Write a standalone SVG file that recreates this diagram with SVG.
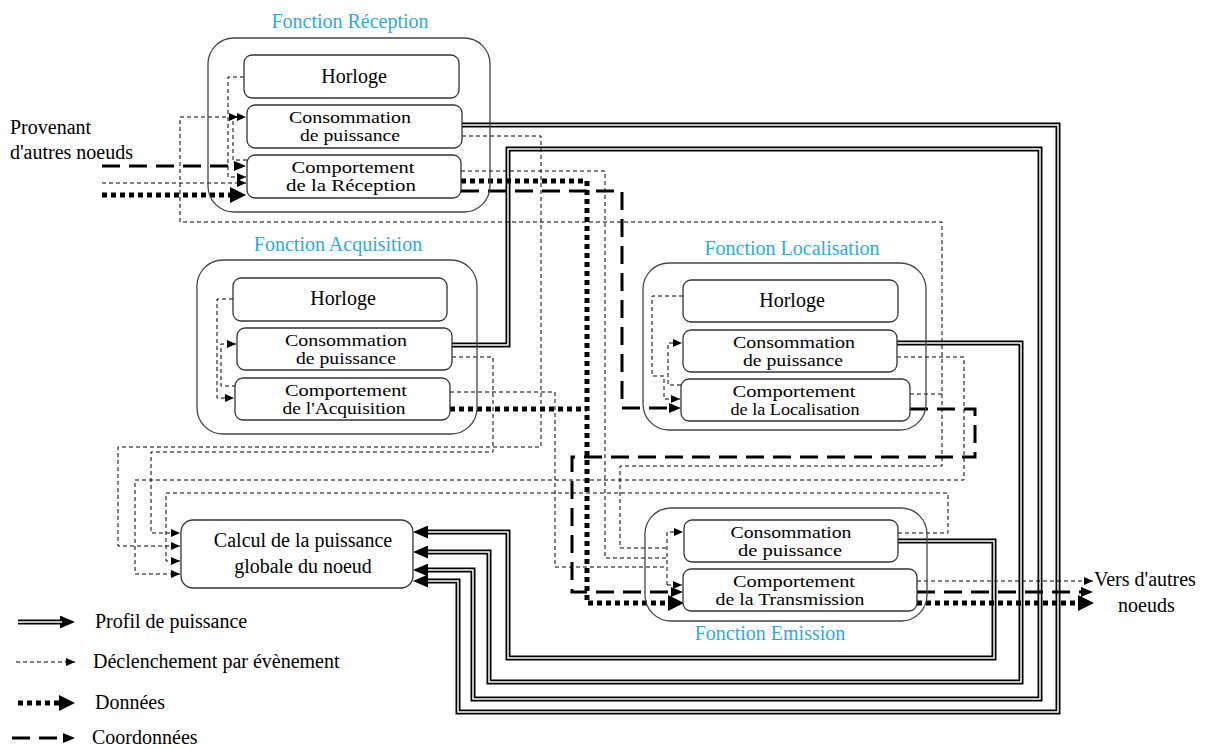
<svg xmlns="http://www.w3.org/2000/svg" width="1209" height="749" viewBox="0 0 1209 749">
<style>
text{font-family:"Liberation Serif","Times New Roman",serif;font-size:20px;fill:#000}
.s{font-size:17px}
.c{text-anchor:middle}
.t{fill:#29abe2}
.box{fill:#fff;stroke:#333;stroke-width:1.3}
.outer{fill:none;stroke:#444;stroke-width:1.3}
.ev{fill:none;stroke:#000;stroke-width:1;stroke-dasharray:4 3}
.co{fill:none;stroke:#000;stroke-width:3;stroke-dasharray:18 9}
.da{fill:none;stroke:#000;stroke-width:5;stroke-dasharray:5 4}
.pw{fill:none;stroke:#000;stroke-width:5}
.pwi{fill:none;stroke:#fff;stroke-width:1.5}
</style>
<defs>
<marker id="mEv" markerUnits="userSpaceOnUse" markerWidth="9" markerHeight="8" refX="9" refY="4" orient="auto"><path d="M0,0 L9,4 L0,8 z" fill="#000"/></marker>
<marker id="mCo" markerUnits="userSpaceOnUse" markerWidth="12" markerHeight="10" refX="8" refY="5" orient="auto"><path d="M0,0 L12,5 L0,10 z" fill="#000"/></marker>
<marker id="mDa" markerUnits="userSpaceOnUse" markerWidth="16" markerHeight="16" refX="8" refY="8" orient="auto"><path d="M0,0 L16,8 L0,16 z" fill="#000"/></marker>
<marker id="mPw" markerUnits="userSpaceOnUse" markerWidth="15" markerHeight="13" refX="8" refY="6.5" orient="auto"><path d="M0,0 L15,6.5 L0,13 z" fill="#000"/></marker>
</defs>
<rect width="1209" height="749" fill="#fff"/>

<g id="connectors">
  <!-- power profile (double lines) -->
  <path class="pw" d="M462,125 H1058 V712 H458 V581 H420" marker-end="url(#mPw)"/>
  <path class="pw" d="M452,345 H508 V149 H1040 V699 H473 V570 H420" marker-end="url(#mPw)"/>
  <path class="pw" d="M897,343 H1021 V682 H489 V552 H420" marker-end="url(#mPw)"/>
  <path class="pw" d="M898,541 H994 V658 H508 V532 H420" marker-end="url(#mPw)"/>
  <path class="pwi" d="M462,125 H1058 V712 H458 V581 H428"/>
  <path class="pwi" d="M452,345 H508 V149 H1040 V699 H473 V570 H428"/>
  <path class="pwi" d="M897,343 H1021 V682 H489 V552 H428"/>
  <path class="pwi" d="M898,541 H994 V658 H508 V532 H428"/>

  <!-- event triggers -->
  <path class="ev" d="M102,183 H246" marker-end="url(#mEv)"/>
  <path class="ev" d="M244,77 H228 V177 H246" marker-end="url(#mEv)"/>
  <path class="ev" d="M247,160 H233 V117 H246" marker-end="url(#mEv)"/>
  <path class="ev" d="M910,394 H942 V222 H180 V117 H238" marker-end="url(#mEv)"/>
  <path class="ev" d="M942,394 V466 H620 V548 H667"/>
  <path class="ev" d="M462,136 H541 V447 H118 V546 H180" marker-end="url(#mEv)"/>
  <path class="ev" d="M461,171 H605 V558 H667"/>
  <path class="ev" d="M452,357 H493 V452 H151 V533 H180" marker-end="url(#mEv)"/>
  <path class="ev" d="M450,392 H555 V567 H667"/>
  <path class="ev" d="M897,357 H964 V480 H135 V574 H180" marker-end="url(#mEv)"/>
  <path class="ev" d="M898,533 H948 V493 H166 V561 H180" marker-end="url(#mEv)"/>
  <path class="ev" d="M667,585 V532 H683" marker-end="url(#mEv)"/>
  <path class="ev" d="M667,585 H682" marker-end="url(#mEv)"/>
  <path class="ev" d="M233,299 H217 V398 H234" marker-end="url(#mEv)"/>
  <path class="ev" d="M236,386 H221 V344 H236" marker-end="url(#mEv)"/>
  <path class="ev" d="M683,296 H652 V376 H664 V399 H680" marker-end="url(#mEv)"/>
  <path class="ev" d="M681,385 H668 V343 H682" marker-end="url(#mEv)"/>
  <path class="ev" d="M917,581 H1093" marker-end="url(#mEv)"/>

  <!-- coordinates -->
  <path class="co" d="M102,166 H242" marker-end="url(#mCo)"/>
  <path class="co" d="M461,191 H622 V408 H677" marker-end="url(#mCo)"/>
  <path class="co" d="M910,409 H975 V457 H572 V592 H679" marker-end="url(#mCo)"/>
  <path class="co" d="M917,592 H1089" marker-end="url(#mCo)"/>

  <!-- data -->
  <path class="da" d="M102,195 H238" marker-end="url(#mDa)"/>
  <path class="da" d="M461,181 H587 V603 H676" marker-end="url(#mDa)"/>
  <path class="da" d="M450,409 H587"/>
  <path class="da" d="M917,603 H1086" marker-end="url(#mDa)"/>
</g>

<g id="fonction-reception">
  <text class="c t" x="350" y="28">Fonction Réception</text>
  <rect class="outer" x="208" y="38" width="282" height="174" rx="26"/>
</g>
<g id="reception-horloge">
  <rect class="box" x="244" y="55" width="215" height="43" rx="8"/>
  <text class="c" x="354" y="83">Horloge</text>
</g>
<g id="reception-consommation">
  <rect class="box" x="247" y="105" width="215" height="43" rx="8"/>
  <text class="c s" x="350" y="123" textLength="122" lengthAdjust="spacingAndGlyphs">Consommation</text>
  <text class="c s" x="350" y="141" textLength="100" lengthAdjust="spacingAndGlyphs">de puissance</text>
</g>
<g id="reception-comportement">
  <rect class="box" x="247" y="155" width="214" height="43" rx="8"/>
  <text class="c s" x="353" y="173" textLength="123" lengthAdjust="spacingAndGlyphs">Comportement</text>
  <text class="c s" x="351" y="191" textLength="130" lengthAdjust="spacingAndGlyphs">de la Réception</text>
</g>

<g id="fonction-acquisition">
  <text class="c t" x="338" y="251">Fonction Acquisition</text>
  <rect class="outer" x="197" y="260" width="280" height="174" rx="26"/>
</g>
<g id="acquisition-horloge">
  <rect class="box" x="233" y="278" width="214" height="43" rx="8"/>
  <text class="c" x="343" y="305">Horloge</text>
</g>
<g id="acquisition-consommation">
  <rect class="box" x="237" y="328" width="215" height="42" rx="8"/>
  <text class="c s" x="346" y="346" textLength="122" lengthAdjust="spacingAndGlyphs">Consommation</text>
  <text class="c s" x="346" y="364" textLength="100" lengthAdjust="spacingAndGlyphs">de puissance</text>
</g>
<g id="acquisition-comportement">
  <rect class="box" x="235" y="378" width="215" height="42" rx="8"/>
  <text class="c s" x="346" y="396" textLength="122" lengthAdjust="spacingAndGlyphs">Comportement</text>
  <text class="c s" x="344" y="414" textLength="123" lengthAdjust="spacingAndGlyphs">de l'Acquisition</text>
</g>

<g id="fonction-localisation">
  <text class="c t" x="792" y="255">Fonction Localisation</text>
  <rect class="outer" x="643" y="263" width="283" height="167" rx="26"/>
</g>
<g id="localisation-horloge">
  <rect class="box" x="683" y="280" width="215" height="42" rx="8"/>
  <text class="c" x="792" y="307">Horloge</text>
</g>
<g id="localisation-consommation">
  <rect class="box" x="683" y="330" width="214" height="42" rx="8"/>
  <text class="c s" x="794" y="348" textLength="122" lengthAdjust="spacingAndGlyphs">Consommation</text>
  <text class="c s" x="793" y="366" textLength="100" lengthAdjust="spacingAndGlyphs">de puissance</text>
</g>
<g id="localisation-comportement">
  <rect class="box" x="681" y="379" width="229" height="42" rx="8"/>
  <text class="c s" x="794" y="397" textLength="123" lengthAdjust="spacingAndGlyphs">Comportement</text>
  <text class="c s" x="795" y="415" textLength="129" lengthAdjust="spacingAndGlyphs">de la Localisation</text>
</g>

<g id="fonction-emission">
  <rect class="outer" x="645" y="508" width="282" height="113" rx="26"/>
  <text class="c t" x="770" y="640">Fonction Emission</text>
</g>
<g id="emission-consommation">
  <rect class="box" x="684" y="520" width="214" height="42" rx="8"/>
  <text class="c s" x="791" y="538" textLength="121" lengthAdjust="spacingAndGlyphs">Consommation</text>
  <text class="c s" x="790" y="556" textLength="104" lengthAdjust="spacingAndGlyphs">de puissance</text>
</g>
<g id="emission-comportement">
  <rect class="box" x="683" y="569" width="234" height="42" rx="8"/>
  <text class="c s" x="794" y="587" textLength="122" lengthAdjust="spacingAndGlyphs">Comportement</text>
  <text class="c s" x="790" y="605" textLength="149" lengthAdjust="spacingAndGlyphs">de la Transmission</text>
</g>

<g id="calcul">
  <rect class="box" x="181" y="520" width="232" height="68" rx="12"/>
  <text class="c" x="303" y="547">Calcul de la puissance</text>
  <text class="c" x="303" y="573">globale du noeud</text>
</g>

<g id="provenant">
  <text x="10" y="134">Provenant</text>
  <text x="10" y="159">d'autres noeuds</text>
</g>
<g id="vers">
  <text x="1094" y="586">Vers d'autres</text>
  <text x="1118" y="612">noeuds</text>
</g>

<g id="legend">
  <path class="pw" d="M18,622 H68" marker-end="url(#mPw)"/>
  <path class="pwi" d="M18,622 H62"/>
  <text x="95" y="628">Profil de puissance</text>
  <path class="ev" d="M16,662 H75" marker-end="url(#mEv)"/>
  <text x="93" y="668">Déclenchement par évènement</text>
  <path class="da" d="M18,703 H67" marker-end="url(#mDa)"/>
  <text x="95" y="709">Données</text>
  <path class="co" d="M12,738 H71" marker-end="url(#mCo)"/>
  <text x="92" y="744">Coordonnées</text>
</g>
</svg>
